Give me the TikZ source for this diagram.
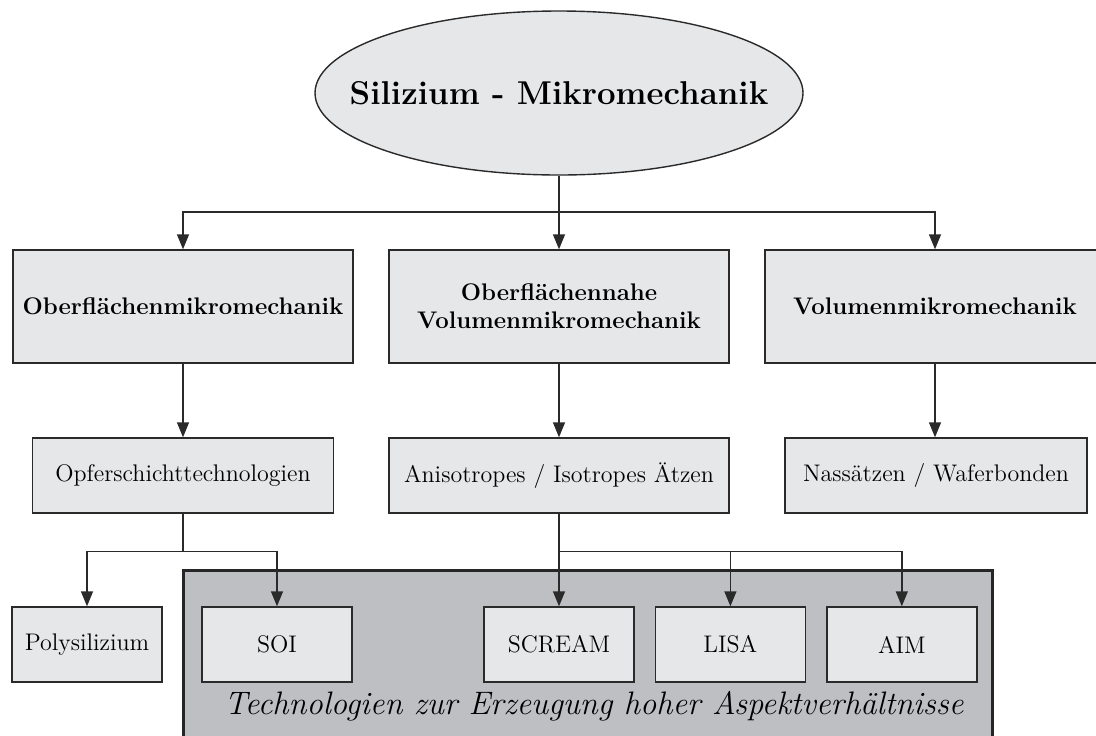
\documentclass[tikz,border=0pt]{standalone}
\usepackage{fontspec}
\usepackage{tikz}
\usetikzlibrary{shapes,arrows.meta,positioning}
\usepackage{xcolor}
\definecolor{boxgray}{HTML}{E6E7E9}
\definecolor{techgray}{HTML}{BEBFC3}
\definecolor{linegray}{HTML}{2A2A2A}

\begin{document}
\begin{tikzpicture}[
    x=0.5pt, y=-0.5pt,
    box/.style={draw=linegray, fill=boxgray, rectangle, line width=0.7pt, minimum width=170pt, minimum height=56.5pt, text centered, align=center, font=\large\bfseries},
    subbox/.style={draw=linegray, fill=boxgray, rectangle, line width=0.7pt, minimum height=37.5pt, text centered, font=\large},
    techbox/.style={subbox, minimum width=75pt},
    arr/.style={-{Triangle[length=7.5pt,width=6pt]}, line width=0.7pt, draw=linegray},
    conn/.style={line width=0.7pt, draw=linegray}
]
\useasboundingbox (0,0) rectangle (1096,735);

\node (silizium) [ellipse, draw=linegray, fill=boxgray, line width=0.7pt, inner sep=0pt, minimum width=244pt, minimum height=82pt, font=\fontsize{16.5}{19}\selectfont\bfseries] at (559,93) {\makebox[0pt]{Silizium - Mikromechanik}};

\node (ofm) [box] at (183,306.5) {Oberflächenmikromechanik};
\node (onvm) [box] at (559,306.5) {Oberflächennahe\\Volumenmikromechanik};
\node (vm) [box] at (935,306.5) {Volumenmikromechanik};

\node (opfer) [subbox, minimum width=150.5pt] at (183,475.5) {Opferschichttechnologien};
\node (aetzen) [subbox, minimum width=170pt] at (559,475.5) {Anisotropes / Isotropes Ätzen};
\node (nass) [subbox, minimum width=151pt] at (936,475.5) {Nassätzen / Waferbonden};

% Gruppe: hohe Aspektverhaeltnisse
\node (har) [draw=black!85, fill=techgray, line width=1.5pt, minimum width=404.5pt, minimum height=87.5pt] at (587.5,657.5) {};
\node (hartext) [font=\fontsize{16.25}{19}\selectfont\itshape] at (594,706) {Technologien zur Erzeugung hoher Aspektverhältnisse};

\node (poly) [techbox] at (87,644.5) {Polysilizium};
\node (soi) [techbox] at (277,644.5) {SOI};
\node (scream) [techbox] at (559,644.5) {SCREAM};
\node (lisa) [techbox, right=10pt of scream] {LISA};
\node (aim) [techbox, right=10pt of lisa] {AIM};

\coordinate (split) at (559,212);
\draw [conn] (silizium.south) -- (split);
\draw [arr] (split) -| (ofm.north);
\draw [arr] (split) -- (onvm.north);
\draw [arr] (split) -| (vm.north);

\draw [arr] (ofm) -- (opfer);
\draw [arr] (onvm) -- (aetzen);
\draw [arr] (vm.south) -- (nass.north -| vm.south);

\draw [conn] (opfer.south) -- ++(0,38) coordinate (opfsplit);
\draw [arr] (opfsplit) -| (poly.north);
\draw [arr] (opfsplit) -| (soi.north);

\draw [conn] (aetzen.south) -- ++(0,38) coordinate (aetzsplit);
\draw [arr] (aetzsplit) -- (scream.north);
\draw [arr] (aetzsplit) -| (lisa.north);
\draw [arr] (aetzsplit) -| (aim.north);
\end{tikzpicture}
\end{document}
